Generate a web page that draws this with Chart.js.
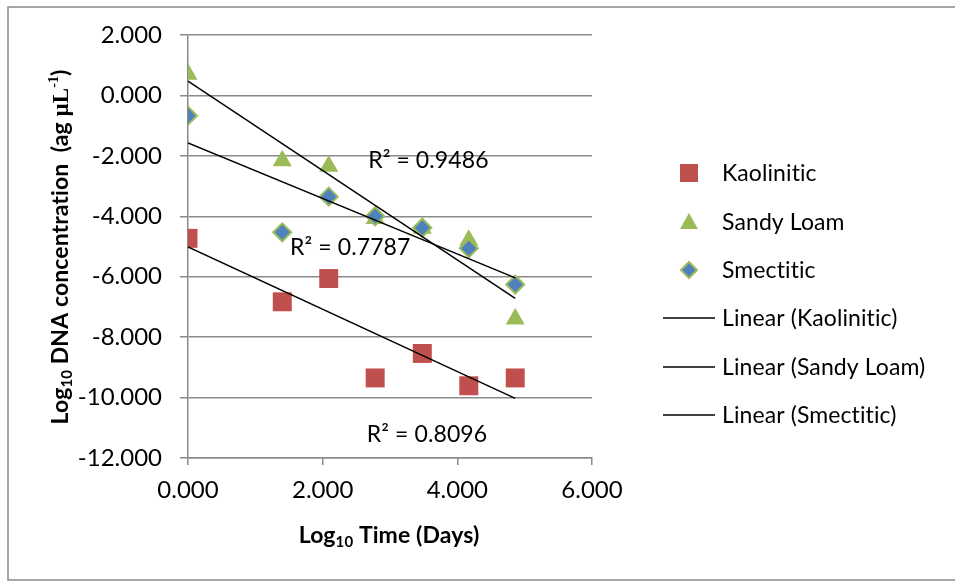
<!DOCTYPE html>
<html>
<head>
<meta charset="utf-8">
<script src="https://cdn.jsdelivr.net/npm/chart.js@4.4.1/dist/chart.umd.min.js"></script>
<style>
  html, body { margin: 0; padding: 0; background: #fff; }
  #c { display: block; }
</style>
</head>
<body>
<canvas id="c" width="955" height="581"></canvas>
<script>
// ==================== DATA ====================
const logDays    = [0, 1.40, 2.09, 2.78, 3.48, 4.17, 4.86];
const kaolinitic = [-4.73, -6.83, -6.06, -9.35, -8.54, -9.61, -9.35];
const sandyLoam  = [0.70, -2.16, -2.34, -4.07, -4.40, -4.79, -7.40];
const smectitic  = [-0.67, -4.53, -3.35, -4.00, -4.38, -5.06, -6.26];

const seriesNames = ['Kaolinitic', 'Sandy Loam', 'Smectitic'];
const r2Labels    = ['R² = 0.8096', 'R² = 0.9486', 'R² = 0.7787'];

const xTicks = [0, 2, 4, 6];
const yTicks = [2, 0, -2, -4, -6, -8, -10, -12];

// ==================== HELPERS ====================
const FONT = 'Lato, "Open Sans", sans-serif';
const red = '#C0504D', green = '#9BBB59', blue = '#4F81BD';

function points(ys) {
  return logDays.map((x, i) => ({ x, y: ys[i] }));
}

// least squares fit, like an Excel linear trendline
function trend(ys) {
  const n = logDays.length;
  const mx = logDays.reduce((a, b) => a + b, 0) / n;
  const my = ys.reduce((a, b) => a + b, 0) / n;
  let sxy = 0, sxx = 0;
  logDays.forEach((x, i) => { sxy += (x - mx) * (ys[i] - my); sxx += (x - mx) * (x - mx); });
  const b = sxy / sxx, a = my - b * mx;
  const x0 = Math.min(...logDays), x1 = Math.max(...logDays);
  return [{ x: x0, y: a + b * x0 }, { x: x1, y: a + b * x1 }];
}

function trendSet(ys) {
  return {
    type: 'line', data: trend(ys), showLine: true, pointRadius: 0,
    borderColor: '#000', borderWidth: 1.5, order: 0
  };
}

// draw a run of text pieces (for subscripts / superscripts)
function richWidth(ctx, parts) {
  let w = 0;
  parts.forEach(p => { ctx.font = p.font; w += ctx.measureText(p.t).width; });
  return w;
}
function drawRich(ctx, parts, x, y) {
  let cx = x;
  parts.forEach(p => {
    ctx.font = p.font;
    ctx.fillText(p.t, cx, y + (p.dy || 0));
    cx += ctx.measureText(p.t).width;
  });
}

// ==================== OVERLAY: frame, titles, legend, R² ====================
const overlay = {
  id: 'overlay',
  beforeDraw(chart) {
    const ctx = chart.ctx;
    ctx.save();
    ctx.strokeStyle = '#8a8a8a';
    ctx.lineWidth = 1.5;
    ctx.strokeRect(8, 7, 1000, 573);
    ctx.restore();
  },
  afterDraw(chart) {
    const ctx = chart.ctx;
    const xs = chart.scales.x, ys = chart.scales.y;
    ctx.save();
    ctx.fillStyle = '#000';
    ctx.textBaseline = 'alphabetic';
    // tiny spacing keeps Lato from joining "ti" into a ligature
    if ('letterSpacing' in ctx) ctx.letterSpacing = '0.1px';

    const B = 'bold 23px ' + FONT;
    const Bs = 'bold 15px ' + FONT;

    // x title
    const xt = [{ t: 'Log', font: B }, { t: '10', font: Bs, dy: 4 }, { t: ' Time (Days)', font: B }];
    drawRich(ctx, xt, 389 - richWidth(ctx, xt) / 2, 543);

    // y title (rotated)
    const yt = [
      { t: 'Log', font: B }, { t: '10', font: Bs, dy: 4 },
      { t: ' DNA concentration  (ag ', font: B },
      { t: 'µL', font: 'bold 23px "Liberation Serif", serif' },
      { t: '-1', font: 'bold 14px "Liberation Serif", serif', dy: -10 },
      { t: ')', font: B }
    ];
    ctx.save();
    ctx.translate(68, 247);
    ctx.rotate(-Math.PI / 2);
    drawRich(ctx, yt, -richWidth(ctx, yt) / 2, 0);
    ctx.restore();

    // R² labels at data positions
    const r2Pos = [[3.55, -11.21], [3.57, -2.14], [2.41, -5.05]];
    ctx.font = '23px ' + FONT;
    ctx.textAlign = 'center';
    ctx.textBaseline = 'middle';
    r2Labels.forEach((t, i) => {
      ctx.fillText(t, xs.getPixelForValue(r2Pos[i][0]), ys.getPixelForValue(r2Pos[i][1]));
    });

    // legend
    const lx = 689, tx = 722;
    const rows = [173, 222, 270, 318, 367, 415];
    ctx.textAlign = 'left';
    ctx.font = '23px ' + FONT;
    const names = seriesNames.concat(seriesNames.map(n => 'Linear (' + n + ')'));
    names.forEach((n, i) => {
      const y = rows[i];
      ctx.fillStyle = '#000';
      ctx.fillText(n, tx, y + 1);
      ctx.beginPath();
      if (i === 0) {
        ctx.fillStyle = red; ctx.fillRect(lx - 9, y - 9, 18, 18);
      } else if (i === 1) {
        ctx.fillStyle = green;
        ctx.moveTo(lx, y - 9); ctx.lineTo(lx + 9, y + 7); ctx.lineTo(lx - 9, y + 7); ctx.closePath(); ctx.fill();
      } else if (i === 2) {
        ctx.fillStyle = blue; ctx.strokeStyle = green; ctx.lineWidth = 2;
        ctx.moveTo(lx, y - 8); ctx.lineTo(lx + 8, y); ctx.lineTo(lx, y + 8); ctx.lineTo(lx - 8, y); ctx.closePath();
        ctx.fill(); ctx.stroke();
      } else {
        ctx.strokeStyle = '#000'; ctx.lineWidth = 1.5;
        ctx.moveTo(663, y); ctx.lineTo(715, y); ctx.stroke();
      }
    });
    ctx.restore();
  }
};

// ==================== CHART ====================
new Chart(document.getElementById('c'), {
  type: 'scatter',
  data: {
    datasets: [
      trendSet(kaolinitic),
      trendSet(sandyLoam),
      trendSet(smectitic),
      { label: seriesNames[0], data: points(kaolinitic), pointStyle: 'rect', pointRadius: 13.4,
        backgroundColor: red, borderWidth: 0, order: 3 },
      { label: seriesNames[1], data: points(sandyLoam), pointStyle: 'triangle', pointRadius: 11,
        backgroundColor: green, borderWidth: 0, order: 2 },
      { label: seriesNames[2], data: points(smectitic), pointStyle: 'rectRot', pointRadius: 9,
        backgroundColor: blue, borderColor: green, borderWidth: 2, order: 1 }
    ]
  },
  options: {
    responsive: false,
    animation: false,
    layout: { padding: { top: 35, right: 363, left: 0, bottom: 0 } },
    plugins: { legend: { display: false }, tooltip: { enabled: false } },
    scales: {
      x: {
        type: 'linear', min: 0, max: 6,
        afterFit: s => { s.height = 123; },
        afterBuildTicks: s => { s.ticks = xTicks.map(v => ({ value: v })); },
        grid: { drawOnChartArea: false, drawTicks: true, tickLength: 7, color: '#8a8a8a', lineWidth: 1.5 },
        border: { color: '#8a8a8a', width: 1.5 },
        ticks: { color: '#000', font: { family: FONT, size: 24 }, padding: 11, callback: v => v.toFixed(3) }
      },
      y: {
        type: 'linear', min: -12, max: 2,
        afterFit: s => { s.width = 188; },
        afterBuildTicks: s => { s.ticks = yTicks.map(v => ({ value: v })); },
        grid: { color: '#8a8a8a', lineWidth: 1.5, tickLength: 8 },
        border: { color: '#8a8a8a', width: 1.5 },
        ticks: { color: '#000', font: { family: FONT, size: 24 }, padding: 18, callback: v => v.toFixed(3) }
      }
    }
  },
  plugins: [overlay]
});
</script>
</body>
</html>
